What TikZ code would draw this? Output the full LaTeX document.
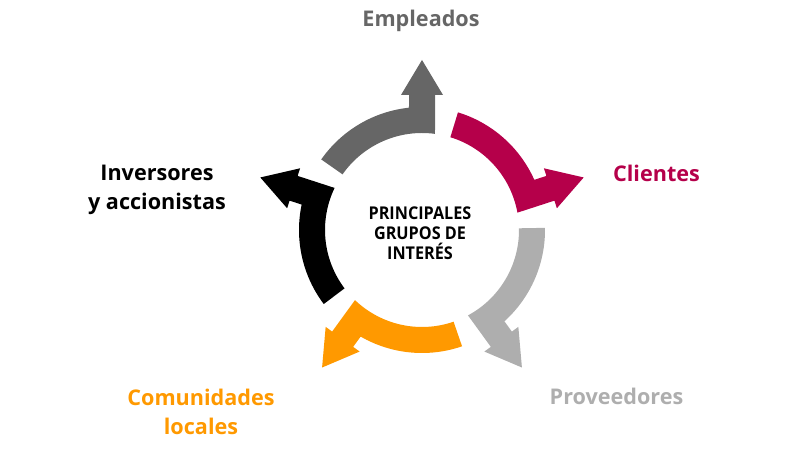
\documentclass[tikz,border=0pt]{standalone}
\usepackage{fontspec}
\setmainfont{Open Sans}
\usepackage{tikz}
\usetikzlibrary{positioning}
\definecolor{grisosc}{HTML}{666666}
\definecolor{grisclaro}{HTML}{AEAEAE}
\definecolor{magenta}{HTML}{B5004A}
\definecolor{naranja}{HTML}{FF9900}
\newfontfamily\centrofont[FakeStretch=0.92]{Open Sans}
% one arc arrow of the ring, drawn pointing up, then turned
\newcommand{\ringarrow}[3]{%
  \fill[#1, rotate=#2] (145:123) arc[start angle=145, end angle=96.07, radius=123]
    -- (-13,135) -- (-21,135) -- (0,170) -- (21,135) -- (13,135)
    -- (82.3:97) arc[start angle=82.3, end angle=145, radius=97] -- cycle;
  \coordinate (#3) at (90+#2:170);
}

\begin{document}
\begin{tikzpicture}[x=1pt, y=1pt, font=\bfseries,
  label/.style={font=\fontsize{21.6}{29}\selectfont\bfseries, align=center}]
  \path[use as bounding box] (0,0) rectangle (801,449);
  \begin{scope}[shift={(422,219)}]
    \ringarrow{grisosc}{0}{tipemp}
    \ringarrow{magenta}{-72}{tipcli}
    \ringarrow{grisclaro}{-144}{tippro}
    \ringarrow{naranja}{-216}{tipcom}
    \ringarrow{black}{-288}{tipinv}
    \node[font=\fontsize{17.6}{20}\centrofont\bfseries, align=center, anchor=base] (centro)
      at (-2,-29.3) {PRINCIPALES\\GRUPOS DE\\INTERÉS};
  \end{scope}
  \node[label, text=grisosc, anchor=base] (emp) at (421,422.3) {Empleados};
  \node[label, text=magenta, anchor=base] (cli) at (656.5,267.3) {Clientes};
  \node[label, text=grisclaro, anchor=base] (pro) at (616.5,44) {Proveedores};
  \node[label, text=naranja, anchor=base] (com) at (201,14) {Comunidades\\locales};
  \node[label, text=black, anchor=base] (inv) at (157,239) {Inversores\\y accionistas};
\end{tikzpicture}
\end{document}
